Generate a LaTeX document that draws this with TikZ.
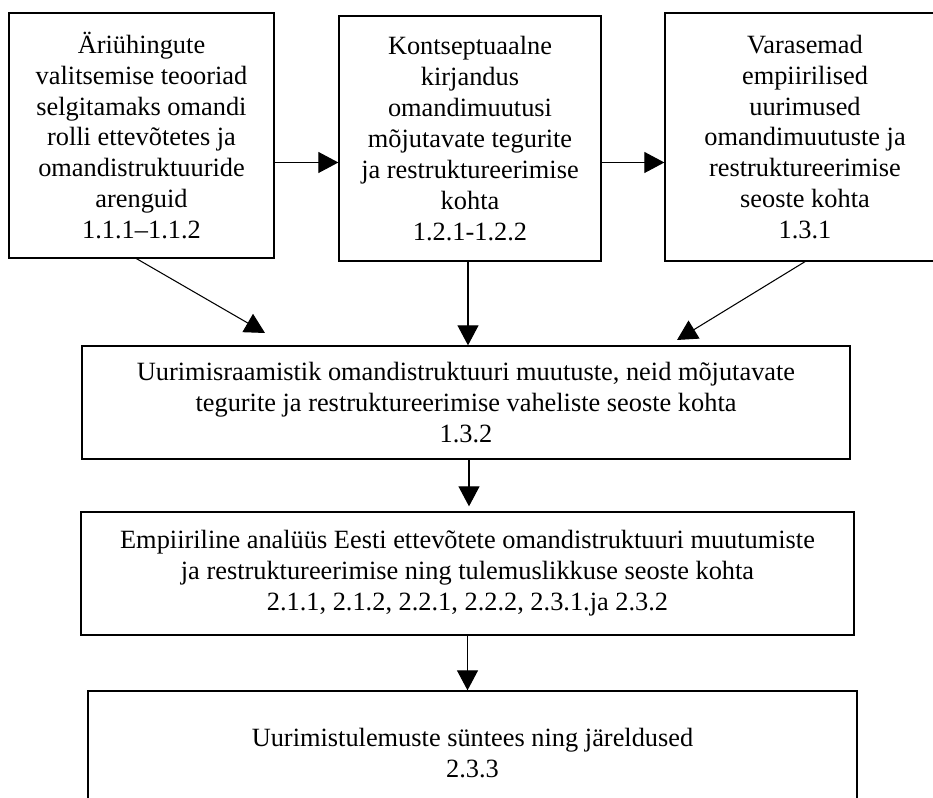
\documentclass[tikz,border=0pt]{standalone}
\usepackage{fontspec}
\setmainfont{Liberation Serif}
\usepackage{tikz}
\usetikzlibrary{arrows.meta}

\newcommand{\boxfont}{\fontsize{15}{17.6}\selectfont}

\begin{document}
\begin{tikzpicture}[->,>={Triangle[length=0.4cm,width=0.42cm]},line width=0.6pt,
  box node/.style={rectangle,draw,-,line width=0.75pt,align=center,inner sep=0pt,font=\boxfont}]

    \useasboundingbox (0, 0) rectangle (18.66, 15.94);

    \node[box node, minimum width=5.30cm, minimum height=4.90cm] (b1) at (2.83, 13.23)
        {Äriühingute\\valitsemise teooriad\\selgitamaks omandi\\rolli ettevõtetes ja\\omandistruktuuride\\arenguid\\1.1.1–1.1.2};
    \node[box node, minimum width=5.24cm, minimum height=4.90cm] (b2) at (9.40, 13.17)
        {Kontseptuaalne\\kirjandus\\omandimuutusi\\mõjutavate tegurite\\ja restruktureerimise\\kohta\\1.2.1-1.2.2};
    \node[box node, minimum width=5.60cm, minimum height=4.96cm] (b3) at (16.10, 13.20)
        {Varasemad\\empiirilised\\uurimused\\omandimuutuste ja\\restruktureerimise\\seoste kohta\\1.3.1};

    \node[box node, minimum width=15.36cm, minimum height=2.26cm] (b4) at (9.32, 7.89)
        {Uurimisraamistik omandistruktuuri muutuste, neid mõjutavate\\tegurite ja restruktureerimise vaheliste seoste kohta\\1.3.2};
    \node[box node, minimum width=15.46cm, minimum height=2.46cm] (b5) at (9.35, 4.47)
        {Empiiriline analüüs Eesti ettevõtete omandistruktuuri muutumiste\\ja restruktureerimise ning tulemuslikkuse seoste kohta\\2.1.1, 2.1.2, 2.2.1, 2.2.2, 2.3.1.ja 2.3.2};
    \node[box node, minimum width=15.38cm, minimum height=2.48cm] (b6) at (9.45, 0.88)
        {Uurimistulemuste süntees ning järeldused\\2.3.3};

    \coordinate (h) at (0, 12.69);
    \coordinate (t1) at (5.30, 9.28);
    \coordinate (t3) at (13.54, 9.14);

    \draw (b1.east |- h) -- (b2.west |- h);
    \draw (b2.east |- h) -- (b3.west |- h);

    \draw ([xshift=-0.1cm]b1.south) -- (t1);
    \draw ([xshift=-0.04cm]b2.south) -- ([xshift=-0.04cm]b2.south |- b4.north);
    \draw (b3.south) -- (t3);

    \draw[shorten >=0.1cm] ([xshift=0.06cm]b4.south) -- ([xshift=0.06cm]b4.south |- b5.north);
    \draw (b5.south) -- (b5.south |- b6.north);
\end{tikzpicture}
\end{document}
